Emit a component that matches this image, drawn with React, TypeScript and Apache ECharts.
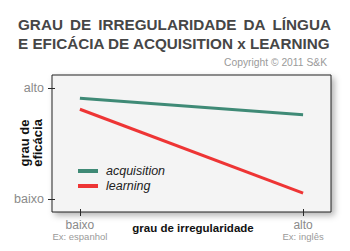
import React, { useEffect, useRef } from "react";
import * as echarts from "echarts";

// Irregularity level (x) and efficacy level (y), both on a 0 (baixo) .. 1 (alto) scale
const xLevels = [0, 1];
const yLevels = [0, 1];
const acquisition = [0.91, 0.76];
const learning = [0.81, 0.05];

const xTickLabels = ["baixo", "alto"];
const xTickExamples = ["Ex: espanhol", "Ex: inglês"];
const yTickLabels = ["baixo", "alto"];

const titleLine1 = ["GRAU", "DE", "IRREGULARIDADE", "DA", "LÍNGUA"];
const titleLine2 = "E EFICÁCIA DE ACQUISITION x LEARNING";

const FONT = '"Liberation Sans", Arial, Helvetica, sans-serif';

function measure(text: string, size: number): number {
  const ctx = document.createElement("canvas").getContext("2d")!;
  ctx.font = `bold ${size}px ${FONT}`;
  return ctx.measureText(text).width;
}

export default function App() {
  const ref = useRef<HTMLDivElement>(null);

  useEffect(() => {
    if (!ref.current) return;
    const chart = echarts.init(ref.current, undefined, { renderer: "svg" });

    // title block spans the same width on both lines; first line is justified
    const titleLeft = 18;
    const titleWidth = 313;
    const titleSize = (titleWidth / measure(titleLine2, 100)) * 100;
    const wordWidths = titleLine1.map((w) => measure(w, titleSize));
    const gap =
      (titleWidth - wordWidths.reduce((a, b) => a + b, 0)) / (titleLine1.length - 1);
    let cursor = titleLeft;
    const line1Words = titleLine1.map((w, i) => {
      const el = {
        id: `title1-${i}`,
        type: "text",
        x: cursor,
        y: 24,
        style: {
          text: w,
          font: `bold ${titleSize}px ${FONT}`,
          fill: "#464646",
          textAlign: "left",
          textVerticalAlign: "middle",
        },
      };
      cursor += wordWidths[i] + gap;
      return el;
    });

    const toPair = (ys: number[]) => xLevels.map((x, i) => [x, ys[i]]);

    const gridLeft = 52;
    const gridTop = 75;
    const gridWidth = 279;
    const gridHeight = 137;
    const xMin = -0.125;
    const xMax = 1.125;
    const yMin = -0.12;
    const yMax = 1.12;

    // tick marks straddling the frame, positioned on the same linear axis extents
    const bottom = gridTop + gridHeight;
    const xPix = (v: number) => gridLeft + ((v - xMin) / (xMax - xMin)) * gridWidth;
    const yPix = (v: number) => bottom - ((v - yMin) / (yMax - yMin)) * gridHeight;
    const tickFill = { fill: "#2a2a2a" };
    const ticks: any[] = [
      ...xLevels.map((v, i) => ({
        id: `xtick-${i}`,
        type: "rect",
        z: 50,
        shape: { x: Math.round(xPix(v)), y: bottom - 3, width: 1, height: 7 },
        style: tickFill,
      })),
      ...yLevels.map((v, i) => ({
        id: `ytick-${i}`,
        type: "rect",
        z: 50,
        shape: { x: gridLeft - 4, y: Math.round(yPix(v)), width: 7, height: 1 },
        style: tickFill,
      })),
    ];

    const texts: any[] = [
      ...line1Words,
      {
        id: "title2",
        type: "text",
        x: titleLeft,
        y: 43.5,
        style: {
          text: titleLine2,
          font: `bold ${titleSize}px ${FONT}`,
          fill: "#464646",
          textAlign: "left",
          textVerticalAlign: "middle",
        },
      },
      {
        id: "copyright",
        type: "text",
        x: 327,
        y: 62,
        style: {
          text: "Copyright © 2011 S&K",
          font: `10.3px ${FONT}`,
          fill: "#9a9a9a",
          textAlign: "right",
          textVerticalAlign: "middle",
        },
      },
      {
        id: "yname",
        type: "text",
        x: 31,
        y: 143,
        rotation: Math.PI / 2,
        style: {
          text: "grau de\neficácia",
          font: `bold 13px ${FONT}`,
          fill: "#111",
          textAlign: "center",
          textVerticalAlign: "middle",
          lineHeight: 13,
        },
      },
      {
        id: "xname",
        type: "text",
        x: 193,
        y: 228,
        style: {
          text: "grau de irregularidade",
          font: `bold 11.5px ${FONT}`,
          fill: "#111",
          textAlign: "center",
          textVerticalAlign: "middle",
        },
      },
    ];

    chart.setOption({
      animation: false,
      grid: {
        left: gridLeft,
        top: gridTop,
        width: gridWidth,
        height: gridHeight,
        show: true,
        backgroundColor: "#f4f4f4",
        borderColor: "#222",
        borderWidth: 1,
        shadowColor: "rgba(0,0,0,0.3)",
        shadowBlur: 6,
        shadowOffsetX: 3,
        shadowOffsetY: 3,
      },
      xAxis: {
        type: "value",
        min: xMin,
        max: xMax,
        splitLine: { show: false },
        axisLine: { show: false, onZero: false },
        axisTick: { show: false },
        axisLabel: {
          customValues: xLevels,
          margin: 7,
          formatter: (v: number) => {
            const i = xLevels.indexOf(Math.round(v));
            return `{a|${xTickLabels[i]}}\n{b|${xTickExamples[i]}}`;
          },
          rich: {
            a: { fontFamily: FONT, fontSize: 12, color: "#8a8a8a", lineHeight: 12 },
            b: { fontFamily: FONT, fontSize: 9.5, color: "#9a9a9a", lineHeight: 10 },
          },
        },
      },
      yAxis: {
        type: "value",
        min: yMin,
        max: yMax,
        splitLine: { show: false },
        axisLine: { show: false, onZero: false },
        axisTick: { show: false },
        axisLabel: {
          customValues: yLevels,
          margin: 8,
          fontFamily: FONT,
          fontSize: 12.5,
          color: "#8a8a8a",
          formatter: (v: number) => yTickLabels[Math.round(v)],
        },
      },
      legend: {
        orient: "vertical",
        left: 73,
        top: 159,
        itemWidth: 20,
        itemHeight: 4,
        itemGap: 1,
        icon: "rect",
        textStyle: {
          fontFamily: FONT,
          fontSize: 12.5,
          fontStyle: "italic",
          color: "#222",
          lineHeight: 14,
          padding: [0, 0, 0, 3],
        },
        data: ["acquisition", "learning"],
      },
      series: [
        {
          name: "acquisition",
          type: "line",
          data: toPair(acquisition),
          symbol: "none",
          lineStyle: { color: "#3f8a76", width: 3 },
          itemStyle: { color: "#3f8a76" },
        },
        {
          name: "learning",
          type: "line",
          data: toPair(learning),
          symbol: "none",
          lineStyle: { color: "#ee3535", width: 3 },
          itemStyle: { color: "#ee3535" },
        },
      ],
      graphic: [...texts, ...ticks],
    });

    return () => chart.dispose();
  }, []);

  return (
    <div
      ref={ref}
      style={{ position: "fixed", left: 0, top: 0, width: 350, height: 251, background: "#fff" }}
    />
  );
}
